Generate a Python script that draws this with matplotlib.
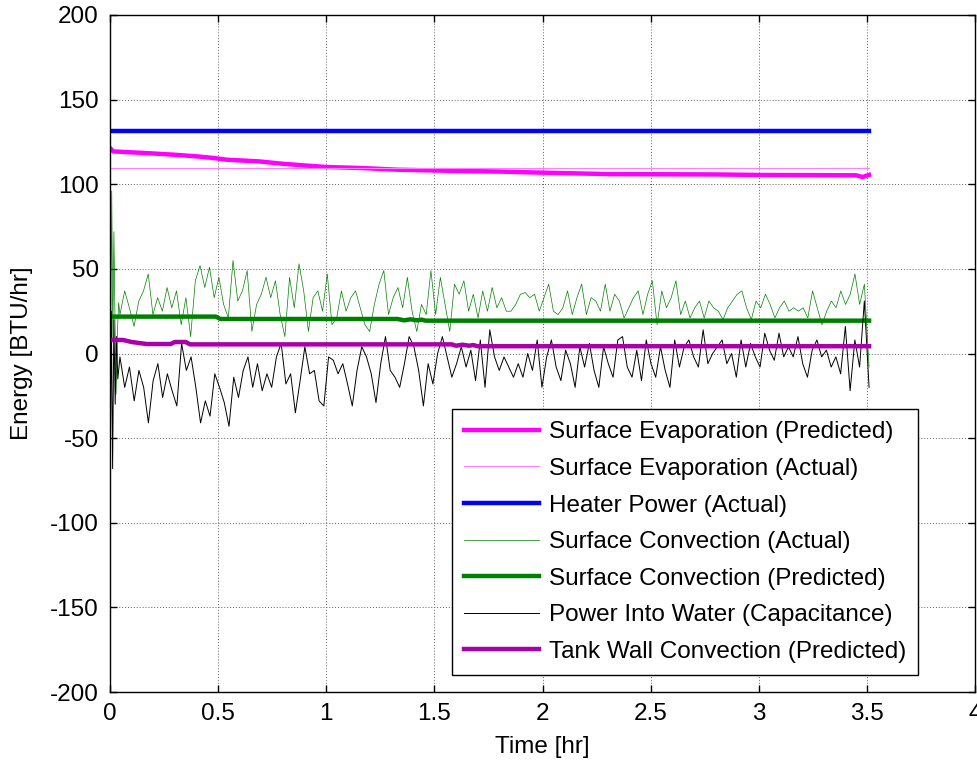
import matplotlib
matplotlib.use('Agg')
import matplotlib.pyplot as plt
import matplotlib.ticker as ticker
import numpy as np

plt.rcParams['font.family'] = ['Liberation Sans', 'DejaVu Sans']
plt.rcParams['font.size'] = 17.5

# ---- data (Time [hr], Energy [BTU/hr]) ----
t_end = 3.51

heater_t = [0, t_end]
heater = [131.3, 131.3]

evap_act_t = [0, t_end]
evap_act = [109.6, 109.6]

evap_pred_t = [0, 0.015, 0.17, 0.29, 0.40, 0.48, 0.54, 0.69, 0.79, 0.89, 1.0, 1.16, 1.33,
               1.55, 1.80, 1.95, 2.20, 2.30, 2.80, 3.00, 3.45, 3.48, t_end]
evap_pred = [121.4, 119.4, 118.4, 117.5, 116.5, 115.5, 114.5, 113.5, 112.2, 111.2, 110.2, 109.6, 108.6,
             108.0, 107.5, 107.0, 106.3, 106.0, 105.8, 105.5, 105.3, 104.3, 105.5]

conv_pred_t = [0, 0.49, 0.51, 1.33, 1.36, 1.39, 1.42, 1.44, 1.46, t_end]
conv_pred = [21.8, 21.8, 20.4, 20.4, 19.6, 20.2, 19.6, 20.0, 19.4, 19.4]

wall_pred_t = [0, 0.06, 0.10, 0.17, 0.28, 0.30, 0.35, 0.37, 1.58, 1.60, 1.63, 1.66, 1.68, 1.70, t_end]
wall_pred = [8.0, 8.0, 6.8, 5.6, 5.6, 6.8, 6.8, 5.4, 5.4, 4.6, 5.2, 4.6, 5.0, 4.3, 4.3]

# surface convection (actual) - start transient then samples
conv_act_start_t = [0, 0.004, 0.008, 0.013, 0.018, 0.023, 0.028, 0.034, 0.040]
conv_act_start = [170, 15, 96, 8, 72, 20, -24, 12, 30]
conv_act = [23, 37, 27, 16, 31, 37, 47, 23, 33, 25, 39, 27, 37, 17, 33, 10, 43, 52, 39, 51, 33,
            45, 29, 21, 55, 31, 37, 49, 13, 29, 35, 45, 33, 43, 23, 10, 45, 27, 53, 37, 13, 33,
            37, 25, 47, 17, 21, 37, 25, 33, 37, 27, 17, 13, 29, 41, 49, 23, 33, 39, 27, 45, 25,
            13, 29, 23, 49, 23, 45, 29, 13, 41, 35, 43, 25, 35, 21, 37, 25, 39, 27, 33, 25,
            25, 29, 35, 36, 33, 35, 25, 33, 41, 25, 23, 27, 37, 23, 33, 41, 23, 33, 31, 25, 41,
            25, 35, 31, 21, 27, 33, 37, 23, 35, 43, 17, 37, 27, 33, 43, 23, 31, 21,
            27, 31, 21, 31, 27, 25, 20, 27, 31, 35, 37, 27, 20, 31, 27, 35, 29, 21, 27, 31, 25,
            27, 25, 27, 21, 37, 27, 17, 25, 31, 27, 37, 29, 35, 47, 29, 41, -8]

# power into water (capacitance)
cap_start_t = [0, 0.006, 0.012, 0.018, 0.024, 0.030, 0.036]
cap_start = [-90, 25, -68, 20, -30, 10, -15]
cap = [-2, -20, -8, -28, -10, -20, -41, -16, -6, -26, -12, -22, -31, 6, -10, -2, -20, -41, -28,
       -37, -12, -20, -29, -43, -14, -26, -10, -2, -20, -6, -22, -12, -20, -2, 6, -18, -12, -35,
       -16, 4, -12,
       -10, -28, -31, -2, -4, -12, -6, -18, -31, -10, 4, -2, -12, -29, -6, 10, -10, -14, -20, -6,
       10, 4, -10, -31, -6, -18, 0, 10, -2, -14, -6, 4, -8, 2, -16, 8, -20, 14, -2, -10,
       -2, -8, -14, -6, -14, 0, -10, 8, -20, -2, 8, -8, -16, 2, -6, -20, 4, -8, 6, -10, -20, 4,
       -6, -14, 8, 10, -8, -14, 2, -16, 8, -6, -14, 4, -10, -20, 8, -8, 4,
       8, -2, -8, 14, -6, 0, 4, 8, -6, 0, -14, 8, -8, 6, -2, -8, 12, 2, -4, 12, -2, 4, -2, 10,
       -6, -14, 2, 8, -2, 2, -8, -2, -12, 16, -22, 8, -8, 31, -20]

conv_t = conv_act_start_t + list(np.linspace(0.046, t_end, len(conv_act)))
conv_v = conv_act_start + conv_act
cap_t = cap_start_t + list(np.linspace(0.046, t_end, len(cap)))
cap_v = cap_start + cap

fig = plt.figure(figsize=(9.77, 7.65), dpi=100)
ax = fig.add_axes([0.1126, 0.0954, 0.8854, 0.885])

ax.plot(evap_pred_t, evap_pred, color='#ff00ff', lw=3.2, label='Surface Evaporation (Predicted)')
ax.plot(evap_act_t, evap_act, color='#ff80ff', lw=0.8, label='Surface Evaporation (Actual)')
ax.plot(heater_t, heater, color='#0000ff', lw=3.2, label='Heater Power (Actual)')
ax.plot(conv_t, conv_v, color='#008000', lw=0.5, label='Surface Convection (Actual)')
ax.plot(conv_pred_t, conv_pred, color='#008000', lw=3.2, label='Surface Convection (Predicted)')
ax.plot(cap_t, cap_v, color='black', lw=0.7, label='Power Into Water (Capacitance)')
ax.plot(wall_pred_t, wall_pred, color='#aa00aa', lw=3.2, label='Tank Wall Convection (Predicted)')

ax.set_xlim(0, 4)
ax.set_ylim(-200, 200)
ax.xaxis.set_major_locator(ticker.MultipleLocator(0.5))
ax.yaxis.set_major_locator(ticker.MultipleLocator(50))
ax.xaxis.set_major_formatter(ticker.FormatStrFormatter('%g'))
ax.yaxis.set_major_formatter(ticker.FormatStrFormatter('%g'))
ax.tick_params(direction='in', length=5, width=1, top=True, right=True, pad=8)
ax.grid(True, color='#606060', linestyle=(0, (1, 2)), lw=0.7)
for s in ax.spines.values():
    s.set_linewidth(1)

ax.set_xlabel('Time [hr]', labelpad=8)
ax.set_ylabel('Energy [BTU/hr]', labelpad=12)

leg = ax.legend(loc='lower left', bbox_to_anchor=(0.395, 0.025), borderaxespad=0,
                fancybox=False, framealpha=1, edgecolor='black', handlelength=3.1,
                handletextpad=0.4, labelspacing=0.6, borderpad=0.5)
leg.get_frame().set_linewidth(1)

fig.savefig('out.png', dpi=100)
